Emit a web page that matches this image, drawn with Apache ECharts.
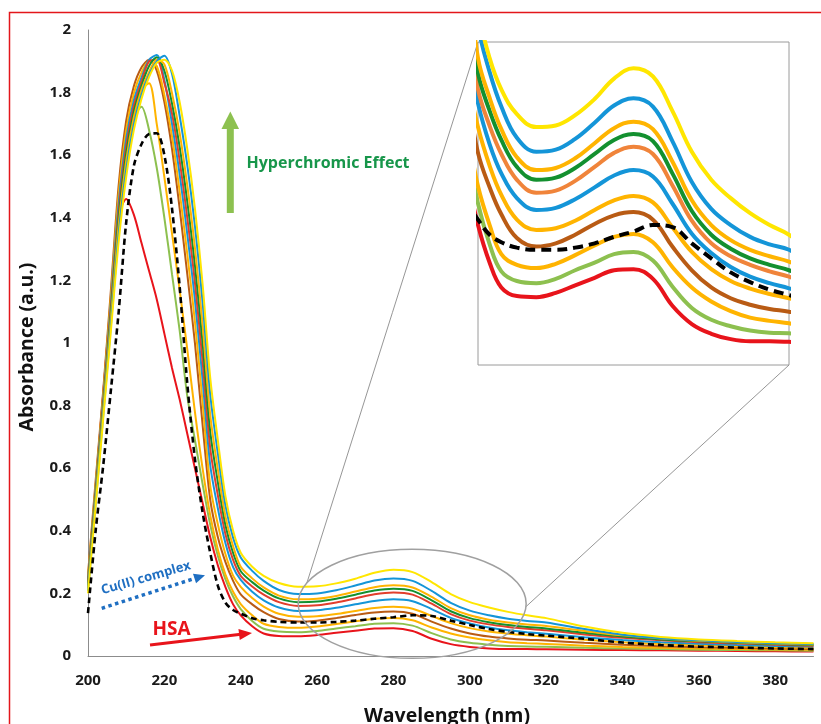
<!DOCTYPE html>
<html><head><meta charset="utf-8">
<script src="https://cdn.jsdelivr.net/npm/echarts/dist/echarts.min.js"></script>
<style>html,body{margin:0;padding:0;background:#fff}#c{width:821px;height:724px}</style>
</head><body><div id="c"></div>
<script>
// ---- data ----
const wavelengths = [200,202,204,206,208,210,212,214,216,218,220,222,224,226,228,230,232,234,236,238,240,
  243,246,250,255,260,265,270,275,280,285,290,295,300,305,310,315,320,330,340,350,360,370,380,390];

const hsaRed = [0.24,0.54,0.84,1.14,1.40,1.46,1.41,1.32,1.23,1.14,1.03,0.92,0.82,0.71,0.60,0.49,0.38,0.29,0.22,0.165,0.13,
  0.095,0.072,0.064,0.063,0.067,0.074,0.081,0.088,0.089,0.080,0.055,0.038,0.029,0.024,0.022,0.022,0.0215,0.020,0.019,0.018,0.017,0.016,0.015,0.014];
const lightGreen = [0.22,0.52,0.82,1.12,1.40,1.60,1.72,1.755,1.68,1.56,1.40,1.22,1.04,0.83,0.69,0.55,0.42,0.32,0.245,0.19,0.15,
  0.112,0.087,0.078,0.076,0.080,0.088,0.095,0.103,0.105,0.097,0.073,0.053,0.042,0.036,0.032,0.030,0.0294,0.026,0.024,0.022,0.020,0.019,0.018,0.017];
const gold3 = [0.22,0.52,0.82,1.12,1.40,1.60,1.74,1.81,1.83,1.70,1.53,1.35,1.17,0.98,0.78,0.60,0.45,0.34,0.26,0.205,0.166,
  0.130,0.103,0.093,0.090,0.094,0.102,0.111,0.119,0.1217,0.114,0.091,0.072,0.059,0.050,0.044,0.041,0.0387,0.033,0.029,0.026,0.024,0.022,0.021,0.020];
const brown = [0.26,0.56,0.85,1.17,1.50,1.71,1.82,1.88,1.905,1.87,1.77,1.62,1.43,1.22,1.00,0.74,0.50,0.38,0.30,0.24,0.197,
  0.165,0.140,0.118,0.110,0.113,0.121,0.131,0.139,0.142,0.135,0.110,0.088,0.072,0.062,0.056,0.052,0.0495,0.042,0.036,0.031,0.028,0.026,0.024,0.022];
const gold2 = [0.25,0.547,0.836,1.149,1.471,1.681,1.798,1.864,1.90,1.885,1.792,1.66,1.484,1.284,1.069,0.812,0.546,0.421,0.325,0.257,0.221,
  0.185,0.158,0.135,0.1254,0.127,0.134,0.144,0.153,0.157,0.151,0.128,0.105,0.089,0.078,0.071,0.066,0.062,0.052,0.044,0.038,0.034,0.031,0.028,0.026];
const blue2 = [0.241,0.534,0.821,1.128,1.442,1.652,1.775,1.848,1.905,1.92,1.84,1.70,1.539,1.348,1.138,0.884,0.611,0.472,0.36,0.284,0.243,
  0.205,0.178,0.155,0.144,0.146,0.154,0.165,0.176,0.181,0.175,0.150,0.122,0.104,0.091,0.082,0.076,0.0712,0.060,0.051,0.044,0.039,0.035,0.032,0.030];
const coral = [0.233,0.524,0.81,1.112,1.419,1.629,1.757,1.835,1.90,1.905,1.831,1.733,1.583,1.40,1.194,0.943,0.665,0.514,0.389,0.307,0.256,
  0.222,0.196,0.172,0.160,0.162,0.171,0.184,0.197,0.2028,0.196,0.167,0.134,0.113,0.101,0.093,0.087,0.082,0.069,0.058,0.050,0.044,0.040,0.036,0.033];
const green = [0.225,0.514,0.798,1.095,1.396,1.606,1.739,1.822,1.885,1.913,1.87,1.765,1.627,1.452,1.249,1.001,0.718,0.556,0.418,0.329,0.271,
  0.236,0.209,0.184,0.172,0.174,0.183,0.196,0.209,0.2146,0.208,0.178,0.143,0.121,0.108,0.099,0.093,0.088,0.074,0.062,0.053,0.047,0.042,0.038,0.035];
const gold1 = [0.217,0.503,0.786,1.078,1.372,1.582,1.721,1.809,1.866,1.905,1.89,1.798,1.671,1.504,1.305,1.06,0.771,0.597,0.446,0.351,0.285,
  0.248,0.219,0.193,0.181,0.183,0.192,0.206,0.220,0.226,0.219,0.189,0.153,0.130,0.116,0.107,0.101,0.096,0.080,0.066,0.056,0.049,0.044,0.040,0.037];
const blue1 = [0.208,0.49,0.772,1.057,1.343,1.553,1.698,1.793,1.857,1.90,1.918,1.86,1.726,1.568,1.374,1.132,0.837,0.648,0.481,0.378,0.315,
  0.272,0.240,0.211,0.198,0.200,0.210,0.225,0.241,0.2477,0.240,0.208,0.170,0.145,0.130,0.119,0.112,0.107,0.086,0.068,0.057,0.050,0.045,0.041,0.038];
const yellow = [0.20,0.48,0.76,1.04,1.32,1.53,1.68,1.78,1.85,1.895,1.905,1.87,1.77,1.62,1.43,1.19,0.89,0.69,0.51,0.40,0.33,
  0.285,0.256,0.233,0.221,0.2225,0.232,0.247,0.266,0.2756,0.268,0.236,0.198,0.172,0.155,0.141,0.130,0.121,0.094,0.074,0.061,0.053,0.048,0.044,0.041];
const cuComplex = [0.137,0.40,0.61,0.85,1.095,1.385,1.565,1.635,1.668,1.67,1.60,1.43,1.18,0.87,0.63,0.46,0.33,0.225,0.17,0.147,0.135,
  0.121,0.114,0.109,0.107,0.107,0.109,0.113,0.119,0.124,0.130,0.128,0.113,0.099,0.086,0.077,0.070,0.065,0.055,0.043,0.035,0.030,0.027,0.024,0.022];

const xTicks = [200,220,240,260,280,300,320,340,360,380];
const yTicks = [0,0.2,0.4,0.6,0.8,1,1.2,1.4,1.6,1.8,2];
const insetRangeX = [240, 320];
const insetRangeY = [0, 0.3];
const ellipseCenter = [284.9, 0.1668];
const ellipseRadius = [29.85, 0.174];

// ---- styles ----
const curves = [
  {name:'HSA', data:hsaRed, color:'#E8141B', inset:'#E8141B'},
  {name:'c1', data:lightGreen, color:'#8DC04F', inset:'#8DC04F'},
  {name:'c2', data:gold3, color:'#FFB400', inset:'#FFB400'},
  {name:'c3', data:brown, color:'#B95B14', inset:'#B95B14'},
  {name:'c4', data:gold2, color:'#FFB400', inset:'#FFB400'},
  {name:'c5', data:blue2, color:'#1495D8', inset:'#1495D8'},
  {name:'c6', data:coral, color:'#E23E2C', inset:'#F0843A'},
  {name:'c7', data:green, color:'#13902F', inset:'#13902F'},
  {name:'c8', data:gold1, color:'#FFB400', inset:'#FFB400'},
  {name:'c9', data:blue1, color:'#1495D8', inset:'#1495D8'},
  {name:'c10', data:yellow, color:'#FFE600', inset:'#FFE600'}
];
const pairs = d => wavelengths.map((w,i)=>[w,d[i]]);

const series = [];
curves.forEach(c=>{
  series.push({type:'line', xAxisIndex:0, yAxisIndex:0, data:pairs(c.data), showSymbol:false, symbol:'none',
    smooth:0.3, lineStyle:{color:c.color, width:2}, silent:true});
});
series.push({type:'line', xAxisIndex:0, yAxisIndex:0, data:pairs(cuComplex), symbol:'none', smooth:0.3,
  lineStyle:{color:'#000', width:2.6, type:[6,4]}, z:5, silent:true});
curves.forEach(c=>{
  series.push({type:'line', xAxisIndex:1, yAxisIndex:1, data:pairs(c.data), symbol:'none', smooth:0.4, clip:true,
    lineStyle:{color:c.inset, width:4}, silent:true});
});
series.push({type:'line', xAxisIndex:1, yAxisIndex:1, data:pairs(cuComplex), symbol:'none', smooth:0.4, clip:true,
  lineStyle:{color:'#000', width:4, type:[10,6]}, z:5, silent:true});

const FONT = '"Open Sans", "DejaVu Sans", sans-serif';
const chart = echarts.init(document.getElementById('c'), null, {renderer:'canvas'});
chart.setOption({
  animation:false,
  backgroundColor:'#fff',
  grid:[
    {left:88, right:7.5, top:30, bottom:68},
    {left:478, top:42, width:311, height:323, show:true, borderColor:'#9a9a9a', borderWidth:1, backgroundColor:'#fff'}
  ],
  xAxis:[
    {type:'value', gridIndex:0, min:200, max:390, interval:20,
     axisLine:{show:true, lineStyle:{color:'#8c8c8c', width:1}}, axisTick:{show:false}, splitLine:{show:false},
     axisLabel:{showMaxLabel:false, margin:17, color:'#1a1a1a', fontWeight:'bold', fontSize:15, fontFamily:FONT,
       formatter:v=> xTicks.includes(v) ? String(v) : ''}},
    {type:'value', gridIndex:1, min:insetRangeX[0], max:insetRangeX[1], show:false}
  ],
  yAxis:[
    {type:'value', gridIndex:0, min:0, max:2, interval:0.2,
     axisLine:{show:true, lineStyle:{color:'#8c8c8c', width:1}}, axisTick:{show:false}, splitLine:{show:false},
     axisLabel:{margin:17, color:'#1a1a1a', fontWeight:'bold', fontSize:15, fontFamily:FONT,
       formatter:v=>{const t=yTicks.find(k=>Math.abs(k-v)<1e-6); return t===undefined?'':String(t);}}},
    {type:'value', gridIndex:1, min:insetRangeY[0], max:insetRangeY[1], show:false}
  ],
  series
});

// ---- annotations ----
const c0 = chart.convertToPixel({gridIndex:0}, ellipseCenter);
const e1 = chart.convertToPixel({gridIndex:0}, [ellipseCenter[0]+ellipseRadius[0], ellipseCenter[1]+ellipseRadius[1]]);
const rx = e1[0]-c0[0], ry = c0[1]-e1[1];
const onEllipse = deg => [c0[0]+rx*Math.cos(deg*Math.PI/180), c0[1]+ry*Math.sin(deg*Math.PI/180)];
const pA = onEllipse(202.5), pB = onEllipse(3);
const tl = chart.convertToPixel({gridIndex:1}, [insetRangeX[0], insetRangeY[1]]);
const br = chart.convertToPixel({gridIndex:1}, [insetRangeX[1], insetRangeY[0]]);

function arrowHead(tip, dir, len, half){
  const n = Math.hypot(dir[0],dir[1]); const u=[dir[0]/n, dir[1]/n]; const p=[-u[1], u[0]];
  const b=[tip[0]-u[0]*len, tip[1]-u[1]*len];
  return [tip, [b[0]+p[0]*half, b[1]+p[1]*half], [b[0]-p[0]*half, b[1]-p[1]*half]];
}

const blueDir = [103.3, -33.3];
const redDir = [102, -12];
chart.setOption({graphic:[
  {type:'rect', shape:{x:9.5, y:12.5, width:1000, height:1000}, style:{fill:'none', stroke:'#E3161B', lineWidth:1.5}, silent:true},
  {type:'ellipse', shape:{cx:c0[0], cy:c0[1], rx:rx, ry:ry}, style:{fill:'none', stroke:'#a0a0a0', lineWidth:1.5}, silent:true, z:10},
  {type:'line', shape:{x1:pA[0], y1:pA[1], x2:tl[0], y2:tl[1]}, style:{stroke:'#8a8a8a', lineWidth:0.9}, silent:true},
  {type:'line', shape:{x1:pB[0], y1:pB[1], x2:br[0], y2:br[1]}, style:{stroke:'#8a8a8a', lineWidth:0.9}, silent:true},
  // Hyperchromic arrow
  {type:'rect', shape:{x:226.8, y:127, width:7, height:86}, style:{fill:'#8DC150'}, silent:true},
  {type:'polygon', shape:{points:[[230.3,111.5],[221.5,129],[239.1,129]]}, style:{fill:'#8DC150'}, silent:true},
  {type:'text', x:246.5, y:163, style:{text:'Hyperchromic Effect', font:'bold 16px '+FONT, fill:'#17964A', align:'left', verticalAlign:'middle'}, silent:true},
  // Cu(II) complex
  {type:'text', x:146, y:578, rotation:16*Math.PI/180, style:{text:'Cu(II) complex', font:'bold 13px '+FONT, fill:'#1F6FC2', align:'center', verticalAlign:'middle'}, silent:true},
  {type:'line', shape:{x1:101.7, y1:608.3, x2:196, y2:578}, style:{stroke:'#1F6FC2', lineWidth:3.5, lineDash:[3.5,3.5]}, silent:true},
  {type:'polygon', shape:{points:arrowHead([205,575.2], blueDir, 11, 5)}, style:{fill:'#1F6FC2'}, silent:true},
  // HSA
  {type:'text', x:171.5, y:630, style:{text:'HSA', font:'bold 19px '+FONT, fill:'#E8141B', align:'center', verticalAlign:'middle'}, silent:true},
  {type:'line', shape:{x1:150, y1:645, x2:241, y2:634.3}, style:{stroke:'#E8141B', lineWidth:3}, silent:true},
  {type:'polygon', shape:{points:arrowHead([252,633], redDir, 13, 5.5)}, style:{fill:'#E8141B'}, silent:true},
  // axis titles
  {type:'text', x:27, y:347, rotation:Math.PI/2, style:{text:'Absorbance (a.u.)', font:'bold 19.5px '+FONT, fill:'#111', align:'center', verticalAlign:'middle'}, silent:true},
  {type:'text', x:447, y:716, style:{text:'Wavelength (nm)', font:'bold 19.5px '+FONT, fill:'#111', align:'center', verticalAlign:'middle'}, silent:true}
]});
</script></body></html>
